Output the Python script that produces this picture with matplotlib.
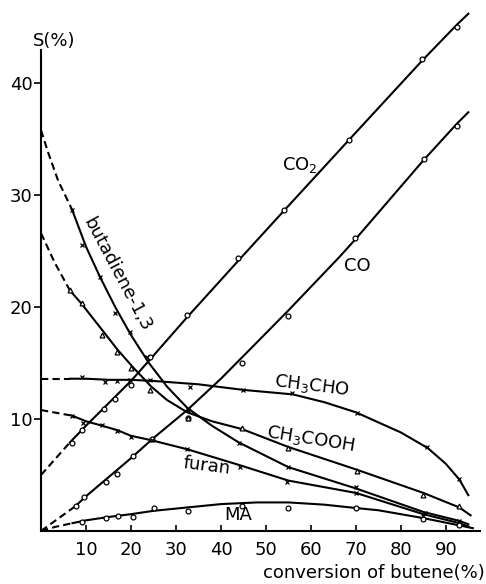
import matplotlib.pyplot as plt

# solid curves as drawn, dashed extrapolations to x=0, measured points
co2_x = [6.4, 10, 15, 20, 24.2, 32.5, 44, 54, 68.4, 84.7, 92.4, 95]
co2_y = [7.9, 9.4, 11.4, 13.4, 15.3, 19.1, 24.2, 28.6, 34.9, 42.0, 45.2, 46.2]
co2_ext_x = [0, 6.4]
co2_ext_y = [5.0, 7.9]
co2_pts_x = [6.9, 9.2, 13.9, 16.4, 20.1, 24.2, 32.4, 43.8, 54, 68.4, 84.7, 92.4]
co2_pts_y = [7.9, 9.0, 10.9, 11.8, 13.0, 15.5, 19.3, 24.4, 28.7, 34.9, 42.2, 45.0]

co_x = [7.6, 10, 15, 20, 25, 32.5, 40, 46.4, 55, 66.4, 70, 85, 92.5, 95]
co_y = [2.2, 3.1, 4.8, 6.5, 8.3, 10.8, 13.6, 16.2, 19.7, 24.5, 26.1, 33.1, 36.4, 37.4]
co_ext_x = [0, 7.6]
co_ext_y = [0, 2.2]
co_pts_x = [7.8, 9.6, 14.4, 16.8, 20.5, 24.6, 32.7, 44.6, 54.9, 69.8, 85.1, 92.4]
co_pts_y = [2.2, 3.0, 4.4, 5.1, 6.7, 8.2, 10.1, 15.0, 19.2, 26.2, 33.2, 36.2]

but_x = [6.9, 10, 13.1, 16.5, 20, 24, 28, 32.5, 38, 44, 55, 70, 85, 93, 95]
but_y = [28.7, 25.4, 22.7, 20.0, 17.5, 15.0, 12.9, 11.0, 9.4, 7.9, 5.7, 3.8, 1.7, 0.9, 0.6]
but_ext_x = [0, 1.5, 3.8, 6.9]
but_ext_y = [35.8, 33.9, 31.3, 28.7]
but_pts_x = [6.9, 9.1, 13.1, 16.4, 19.8, 23.5, 32.7, 44, 55, 70, 85.3, 93]
but_pts_y = [28.7, 25.5, 22.7, 19.5, 17.8, 15.5, 10.8, 7.9, 5.7, 3.9, 1.6, 0.9]

acid_x = [6.4, 9, 13.5, 17, 20.5, 24.5, 28, 32.5, 38, 44.7, 55, 70, 85, 93, 95.5]
acid_y = [21.5, 20.3, 18.0, 16.2, 14.6, 12.9, 11.7, 10.6, 9.8, 9.1, 7.5, 5.5, 3.4, 2.1, 1.4]
acid_ext_x = [0, 3, 6.4]
acid_ext_y = [26.6, 24.0, 21.5]
acid_pts_x = [6.4, 9.1, 13.5, 16.8, 20.1, 24.2, 32.7, 44.7, 55, 70.2, 84.9, 93]
acid_pts_y = [21.5, 20.4, 17.5, 16.0, 14.6, 12.6, 10.1, 9.2, 7.4, 5.4, 3.2, 2.2]

ald_x = [6.4, 10, 15, 20, 25, 35, 45, 56, 63, 70, 80, 86, 90, 93, 95]
ald_y = [13.6, 13.6, 13.5, 13.5, 13.4, 13.1, 12.6, 12.2, 11.5, 10.6, 8.8, 7.4, 6.0, 4.6, 3.2]
ald_ext_x = [0, 6.4]
ald_ext_y = [13.6, 13.6]
ald_pts_x = [9.1, 14.2, 16.9, 19.8, 24.2, 33.1, 44.9, 55.8, 70.2, 85.8, 93]
ald_pts_y = [13.75, 13.3, 13.4, 13.5, 13.5, 12.9, 12.6, 12.3, 10.5, 7.5, 4.6]

fur_x = [6.9, 10, 13.6, 17, 20, 24.6, 32.5, 44, 55, 70, 85, 93, 95]
fur_y = [10.3, 9.8, 9.4, 9.0, 8.5, 8.1, 7.3, 5.9, 4.5, 3.4, 1.5, 0.7, 0.4]
fur_ext_x = [0, 6.9]
fur_ext_y = [10.8, 10.3]
fur_pts_x = [6.9, 9.3, 13.6, 16.9, 20, 24.6, 32.5, 44.2, 54.7, 70, 85, 93]
fur_pts_y = [10.3, 9.6, 9.5, 8.9, 8.4, 8.1, 7.3, 5.7, 4.4, 3.4, 1.3, 0.6]

ma_x = [7, 10, 15, 20, 25, 32.5, 40, 48, 55, 63, 70, 75, 85, 93, 96]
ma_y = [0.7, 0.95, 1.25, 1.5, 1.8, 2.1, 2.4, 2.55, 2.55, 2.35, 2.05, 1.85, 1.15, 0.5, 0.25]
ma_ext_x = [0, 3, 7]
ma_ext_y = [0, 0.35, 0.7]
ma_pts_x = [9.1, 14.4, 17.2, 20.5, 25.1, 32.7, 44.7, 55, 70, 85, 93]
ma_pts_y = [0.8, 1.15, 1.35, 1.25, 2.05, 1.8, 2.2, 2.05, 2.05, 1.1, 0.5]

xticks = [10, 20, 30, 40, 50, 60, 70, 80, 90]
yticks = [10, 20, 30, 40]

plt.rcParams['font.family'] = 'DejaVu Sans'

fig = plt.figure(figsize=(4.86, 5.84), dpi=100)
ax = fig.add_axes([0.0844, 0.0908, 0.907, 0.901])


def curve(x, y, ex, ey, px, py, marker):
    ax.plot(ex, ey, color='black', lw=1.5, ls=(0, (3.5, 2)), clip_on=False)
    ax.plot(x, y, color='black', lw=1.5, clip_on=False)
    ax.plot(px, py, ls='none', marker=marker, ms=3.5, mew=0.9,
            mfc='white', mec='black', clip_on=False, zorder=3)


curve(co2_x, co2_y, co2_ext_x, co2_ext_y, co2_pts_x, co2_pts_y, 'o')
curve(co_x, co_y, co_ext_x, co_ext_y, co_pts_x, co_pts_y, 'o')
curve(but_x, but_y, but_ext_x, but_ext_y, but_pts_x, but_pts_y, 'x')
curve(acid_x, acid_y, acid_ext_x, acid_ext_y, acid_pts_x, acid_pts_y, '^')
curve(ald_x, ald_y, ald_ext_x, ald_ext_y, ald_pts_x, ald_pts_y, 'x')
curve(fur_x, fur_y, fur_ext_x, fur_ext_y, fur_pts_x, fur_pts_y, 'x')
curve(ma_x, ma_y, ma_ext_x, ma_ext_y, ma_pts_x, ma_pts_y, 'o')

ax.set_xlim(0, 98)
ax.set_ylim(0, 47)
ax.spines['top'].set_visible(False)
ax.spines['right'].set_visible(False)
ax.spines['left'].set_bounds(0, 43)
ax.spines['bottom'].set_bounds(0, 97.5)
for s in ['left', 'bottom']:
    ax.spines[s].set_linewidth(1.5)

ax.set_xticks(xticks)
ax.set_yticks(yticks)
ax.tick_params(axis='x', direction='in', length=4, width=1.2, pad=7, labelsize=13)
ax.tick_params(axis='y', direction='out', length=5, width=1.2, pad=1, labelsize=13)

# labels on the curves
ax.text(57.5, 32.7, r'CO$_2$', fontsize=13, ha='center', va='center')
ax.text(70.3, 23.7, 'CO', fontsize=13, ha='center', va='center')
ax.text(16.9, 22.9, 'butadiene-1,3', fontsize=13, ha='center', va='center',
        rotation=-62, rotation_mode='anchor')
ax.text(60.2, 13.0, r'CH$_3$CHO', fontsize=13, ha='center', va='center',
        rotation=-7, rotation_mode='anchor')
ax.text(60.0, 8.2, r'CH$_3$COOH', fontsize=13, ha='center', va='center',
        rotation=-9, rotation_mode='anchor')
ax.text(36.9, 5.8, 'furan', fontsize=13, ha='center', va='center',
        rotation=-7, rotation_mode='anchor')
ax.text(43.8, 1.4, 'MA', fontsize=13, ha='center', va='center')

ax.text(-1.8, 43.8, 'S(%)', fontsize=13, ha='left', va='center', clip_on=False)
fig.text(485 / 486, 1 - 573 / 584, 'conversion of butene(%)', fontsize=13,
         ha='right', va='center')

fig.savefig('out.png', dpi=100)
